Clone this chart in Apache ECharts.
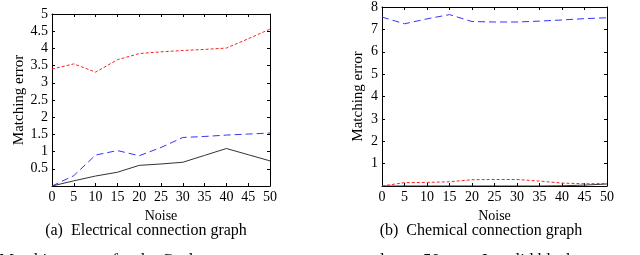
<!DOCTYPE html>
<html><head><meta charset="utf-8">
<script src="https://cdn.jsdelivr.net/npm/echarts@6/dist/echarts.min.js"></script>
<style>html,body{margin:0;padding:0;background:#fff}#c{width:640px;height:255px}</style>
</head><body><div id="c"></div>
<script>
const noise = [0, 5, 10, 15, 20, 25, 30, 35, 40, 45, 50];
// (a) Electrical connection graph
const elecRed   = [3.40, 3.55, 3.31, 3.67, 3.85, 3.90, 3.94, 3.97, 4.01, 4.28, 4.56];
const elecBlue  = [0.00, 0.30, 0.90, 1.03, 0.88, 1.12, 1.41, 1.44, 1.48, 1.51, 1.54];
const elecBlack = [0.00, 0.15, 0.29, 0.40, 0.60, 0.64, 0.69, 0.89, 1.09, 0.91, 0.73];
// (b) Chemical connection graph
const chemBlue  = [7.55, 7.25, 7.47, 7.66, 7.35, 7.33, 7.33, 7.37, 7.42, 7.48, 7.52];
const chemRed   = [0.00, 0.15, 0.16, 0.19, 0.28, 0.29, 0.29, 0.22, 0.13, 0.10, 0.11];
const chemBlack = [0.00, 0.00, 0.00, 0.00, 0.00, 0.00, 0.00, 0.00, 0.01, 0.04, 0.09];

const F = 'Liberation Serif';
const chart = echarts.init(document.getElementById('c'));
function pairs(v){ return noise.map((x,i)=>[x,v[i]]); }
function xAx(grid, bottom){
  return {type:'value', gridIndex:grid, min:0, max:50, interval:5,
    position: bottom ? 'bottom':'top',
    axisLine:{show:true, onZero:false, lineStyle:{color:'#000', width:1}},
    axisTick:{show:true, inside:true, length:3, lineStyle:{color:'#000'}},
    axisLabel:{show:bottom, color:'#000', fontFamily:F, fontSize:14, margin:4},
    splitLine:{show:false},
    name: bottom ? 'Noise' : '', nameLocation:'middle', nameGap:17,
    nameTextStyle:{color:'#000', fontFamily:F, fontSize:14}};
}
function yAx(grid, left, max, interval){
  return {type:'value', gridIndex:grid, min:0, max:max, interval:interval,
    position: left ? 'left':'right',
    axisLine:{show:true, onZero:false, lineStyle:{color:'#000', width:1}},
    axisTick:{show:true, inside:true, length:3, lineStyle:{color:'#000'}},
    axisLabel:{show:left, color:'#000', fontFamily:F, fontSize:14, margin:4,
      formatter: v => v === 0 ? '' : String(v)},
    splitLine:{show:false},
    name: left ? 'Matching error' : '', nameLocation:'middle', nameGap: grid===0 ? 21 : 16,
    nameTextStyle:{color:'#000', fontFamily:F, fontSize:15}};
}
function ln(xi, yi, v, color, type, w){
  return {type:'line', xAxisIndex:xi, yAxisIndex:yi, data:pairs(v), symbol:'none',
    lineStyle:{color:color, type:type, width:w||1}, animation:false, silent:true};
}
chart.setOption({
  animation:false,
  grid:[
    {left:52, top:14, width:218, height:172},
    {left:382, top:7, width:225, height:179}
  ],
  xAxis:[xAx(0,true), xAx(1,true), xAx(0,false), xAx(1,false)],
  yAxis:[yAx(0,true,5,0.5), yAx(1,true,8,1), yAx(0,false,5,0.5), yAx(1,false,8,1)],
  series:[
    ln(0,0,elecRed,'#ff2020',[3,2]),
    ln(0,0,elecBlue,'#3333ff',[7,4]),
    ln(0,0,elecBlack,'#333333','solid'),
    ln(1,1,chemBlack,'#333333','solid'),
    ln(1,1,chemBlue,'#3333ff',[7,4]),
    ln(1,1,chemRed,'#ff2020',[3,2])
  ],
  graphic:[
    {type:'text', style:{text:'(a)  Electrical connection graph', x:146, y:231, textAlign:'center', textVerticalAlign:'middle', font:'16px "Liberation Serif"', fill:'#000'}},
    {type:'text', style:{text:'(b)  Chemical connection graph', x:481, y:231, textAlign:'center', textVerticalAlign:'middle', font:'16px "Liberation Serif"', fill:'#000'}},
    {type:'text', style:{text:'Matching errors for the C. elegans connectome averaged over 50 runs. In solid black', x:-1, y:261, textAlign:'left', textVerticalAlign:'middle', font:'17px "Liberation Serif"', fill:'#000'}}
  ]
});
</script></body></html>
